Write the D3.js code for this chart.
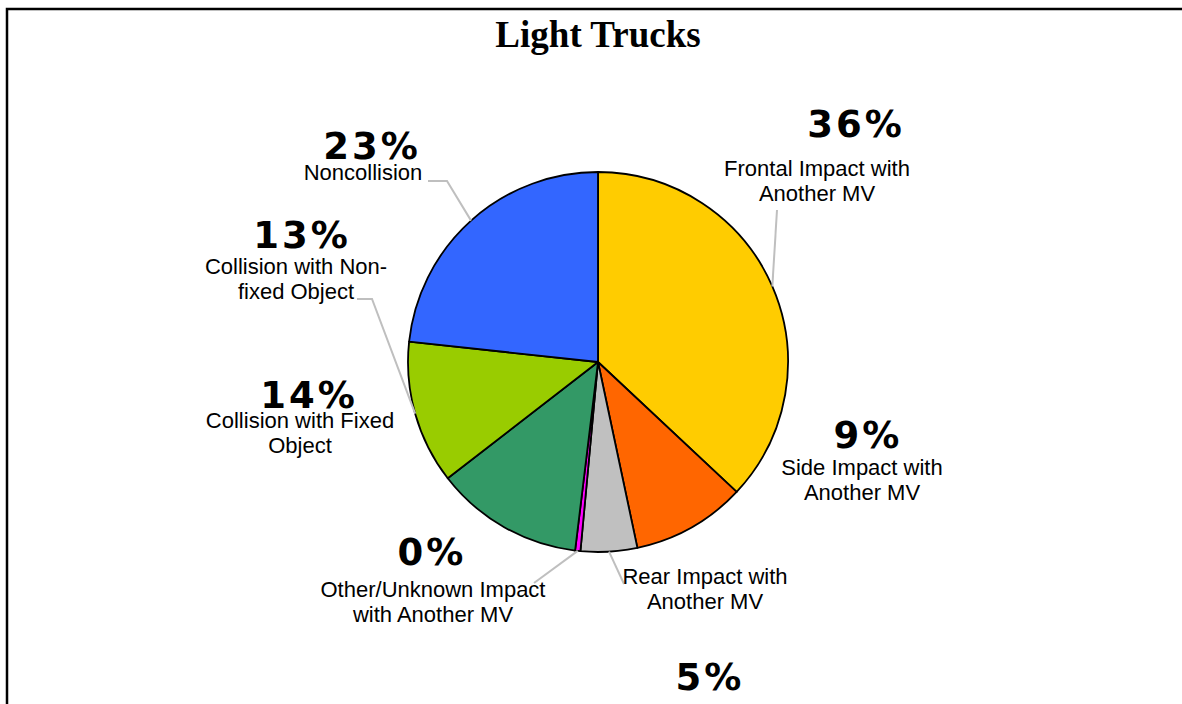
<!DOCTYPE html>
<html>
<head>
<meta charset="utf-8">
<script src="https://cdn.jsdelivr.net/npm/d3@7"></script>
<style>
  body { margin: 0; background: #fff; }
  svg { display: block; }
</style>
</head>
<body>
<svg id="chart"></svg>
<script>
// Data (slice sizes)
const categories = [
  "Frontal Impact with|Another MV",
  "Side Impact with|Another MV",
  "Rear Impact with|Another MV",
  "Other/Unknown Impact|with Another MV",
  "Collision with Fixed|Object",
  "Collision with Non-|fixed Object",
  "Noncollision"
];
const values = [37.0, 9.7, 4.8, 0.45, 12.6, 12.2, 23.3];
const pctLabels = ["36%", "9%", "5%", "0%", "14%", "13%", "23%"];
const colors = ["#FFCC00", "#FF6600", "#C0C0C0", "#FF00FF", "#339966", "#99CC00", "#3366FF"];

// Label layout (manual placement like the original)
const pctPos  = [[856, 137], [868, 448], [710, 690], [432, 565], [309, 408], [302, 248], [372, 159]];
const namePos = [[817, 176], [862, 475], [705, 584], [433, 597], [300, 428], [296, 274], [363, 180]];
const leaderStart = [
  [[777, 210]],
  null,
  [[624, 584]],
  [[534, 583]],
  null,
  [[357, 299], [372, 299]],
  [[428, 181], [447, 181]]
];

const width = 1182, height = 704;
const cx = 598, cy = 362, radius = 190;

const svg = d3.select('#chart')
    .attr('width', width)
    .attr('height', height);

// Frame
svg.append('path')
    .attr('d', `M7,${height} V9 H${width}`)
    .attr('fill', 'none')
    .attr('stroke', '#000')
    .attr('stroke-width', 2.5);

// Title
svg.append('text')
    .attr('x', 598)
    .attr('y', 47)
    .attr('text-anchor', 'middle')
    .style('font-family', '"Liberation Serif", "Times New Roman", serif')
    .style('font-weight', 'bold')
    .style('font-size', '37px')
    .text('Light Trucks');

const pie = d3.pie().sort(null).value(d => d);
const arcs = pie(values);
const arc = d3.arc().innerRadius(0).outerRadius(radius);

const g = svg.append('g').attr('transform', `translate(${cx},${cy})`);

g.selectAll('path.slice')
    .data(arcs)
    .enter()
    .append('path')
    .attr('class', 'slice')
    .attr('d', arc)
    .attr('fill', (d, i) => colors[i])
    .attr('stroke', '#000')
    .attr('stroke-width', 1.8)
    .attr('stroke-linejoin', 'round');

// Leader lines: from label to the slice edge at mid-angle
arcs.forEach((d, i) => {
  if (!leaderStart[i]) return;
  const mid = (d.startAngle + d.endAngle) / 2;
  const edge = [cx + radius * Math.sin(mid), cy - radius * Math.cos(mid)];
  const pts = leaderStart[i].concat([edge]);
  svg.append('path')
      .attr('d', d3.line()(pts))
      .attr('fill', 'none')
      .attr('stroke', '#BFBFBF')
      .attr('stroke-width', 2);
});

// Category names
categories.forEach((c, i) => {
  const t = svg.append('text')
      .attr('x', namePos[i][0])
      .attr('y', namePos[i][1])
      .attr('text-anchor', 'middle')
      .style('font-family', '"Liberation Sans Narrow", "Arial Narrow", "Liberation Sans", sans-serif')
      .style('font-size', '22px')
      .attr('fill', '#000');
  c.split('|').forEach((line, k) => {
    t.append('tspan')
        .attr('x', namePos[i][0])
        .attr('dy', k === 0 ? 0 : 25)
        .text(line);
  });
});

// Percent labels
svg.selectAll('text.pct')
    .data(pctLabels)
    .enter()
    .append('text')
    .attr('class', 'pct')
    .attr('x', (d, i) => pctPos[i][0])
    .attr('y', (d, i) => pctPos[i][1])
    .attr('text-anchor', 'middle')
    .style('font-family', '"DejaVu Sans", Verdana, sans-serif')
    .style('font-weight', 'bold')
    .style('font-size', '37px')
    .style('letter-spacing', '3px')
    .text(d => d);
</script>
</body>
</html>
